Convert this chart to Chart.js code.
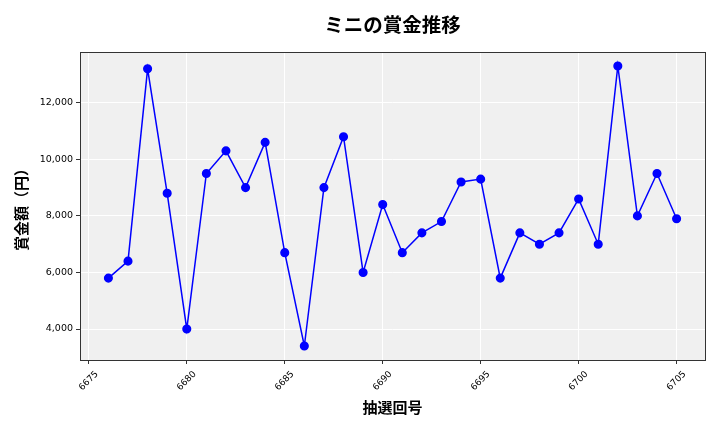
<!DOCTYPE html>
<html lang="ja">
<head>
    <meta charset="UTF-8">
    <title>ミニの賞金推移</title>
    <script src="https://cdn.jsdelivr.net/npm/chart.js"></script>
    <style>
        html, body { margin: 0; padding: 0; background: #ffffff; }
        .chart-container { position: relative; width: 720px; height: 432px; }
    </style>
</head>
<body>
    <div class="chart-container">
        <canvas id="prize-chart" width="720" height="432"></canvas>
    </div>
    <script>
        // 抽選回号と賞金額
        const drawNumbers = [6676, 6677, 6678, 6679, 6680, 6681, 6682, 6683, 6684, 6685,
                             6686, 6687, 6688, 6689, 6690, 6691, 6692, 6693, 6694, 6695,
                             6696, 6697, 6698, 6699, 6700, 6701, 6702, 6703, 6704, 6705];
        const prizeValues = [5800, 6400, 13200, 8800, 4000, 9500, 10300, 9000, 10600, 6700,
                             3400, 9000, 10800, 6000, 8400, 6700, 7400, 7800, 9200, 9300,
                             5800, 7400, 7000, 7400, 8600, 7000, 13300, 8000, 9500, 7900];
        const xTicks = [6675, 6680, 6685, 6690, 6695, 6700, 6705];
        const yTicks = [4000, 6000, 8000, 10000, 12000];

        const jpFont = "'Noto Sans CJK JP', 'Noto Sans', sans-serif";
        const tickFont = "'DejaVu Sans', sans-serif";

        // plot background + frame like matplotlib
        const frame = {
            id: 'frame',
            beforeDraw(chart) {
                const {ctx, chartArea: a} = chart;
                ctx.save();
                ctx.fillStyle = '#f0f0f0';
                ctx.fillRect(a.left, a.top, a.right - a.left, a.bottom - a.top);
                ctx.restore();
            },
            afterDraw(chart) {
                const {ctx, chartArea: a} = chart;
                ctx.save();
                ctx.strokeStyle = '#333333';
                ctx.lineWidth = 1;
                ctx.strokeRect(a.left + 0.5, a.top + 0.5, a.right - a.left, a.bottom - a.top);
                ctx.restore();
            }
        };

        const ctx = document.getElementById('prize-chart').getContext('2d');
        new Chart(ctx, {
            type: 'line',
            data: {
                datasets: [{
                    data: drawNumbers.map((n, i) => ({x: n, y: prizeValues[i]})),
                    borderColor: '#0000ff',
                    backgroundColor: '#0000ff',
                    borderWidth: 1.5,
                    pointRadius: 3.8,
                    pointHoverRadius: 3.8,
                    tension: 0
                }]
            },
            options: {
                responsive: false,
                animation: false,
                layout: { padding: { left: 0, right: 15, top: 0, bottom: 0 } },
                plugins: {
                    legend: { display: false },
                    tooltip: { enabled: false },
                    title: {
                        display: true,
                        fullSize: false,
                        text: 'ミニの賞金推移',
                        color: '#000000',
                        font: { family: jpFont, size: 19.5, weight: 'bold' },
                        padding: { top: 13, bottom: 15.6 }
                    }
                },
                scales: {
                    x: {
                        type: 'linear',
                        min: 6674.55,
                        max: 6706.45,
                        afterBuildTicks(scale) {
                            scale.ticks = xTicks.map(v => ({value: v}));
                        },
                        afterFit(scale) { scale.height = 72; },
                        ticks: {
                            minRotation: 45,
                            maxRotation: 45,
                            color: '#000000',
                            font: { family: tickFont, size: 9 },
                            padding: 5,
                            labelOffset: 8,
                            callback: v => String(v)
                        },
                        grid: { color: '#ffffff', lineWidth: 1, tickColor: '#333333', tickLength: 4 },
                        border: { display: false },
                        title: {
                            display: true,
                            text: '抽選回号',
                            color: '#000000',
                            font: { family: jpFont, size: 15, weight: 'bold' },
                            padding: { top: 0, bottom: 16 }
                        }
                    },
                    y: {
                        type: 'linear',
                        min: 2905,
                        max: 13795,
                        afterBuildTicks(scale) {
                            scale.ticks = yTicks.map(v => ({value: v}));
                        },
                        afterFit(scale) { scale.width = 80; },
                        ticks: {
                            color: '#000000',
                            font: { family: tickFont, size: 9.5 },
                            padding: 3,
                            callback: v => v.toLocaleString('en-US')
                        },
                        grid: { color: '#ffffff', lineWidth: 1, tickColor: '#333333', tickLength: 4 },
                        border: { display: false },
                        title: {
                            display: true,
                            text: '賞金額（円）',
                            color: '#000000',
                            font: { family: jpFont, size: 15, weight: 'bold' },
                            padding: { top: 12, bottom: 0 }
                        }
                    }
                }
            },
            plugins: [frame]
        });
    </script>
</body>
</html>
